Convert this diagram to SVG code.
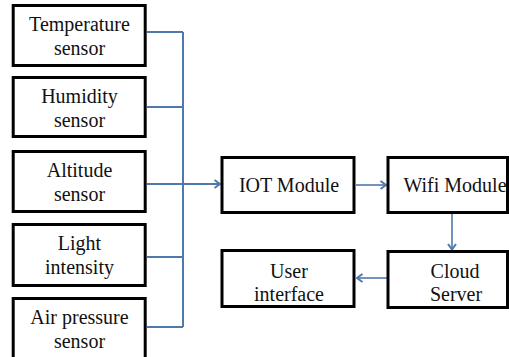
<svg xmlns="http://www.w3.org/2000/svg" width="509" height="357" viewBox="0 0 509 357">
  <style>
    .box { fill: #ffffff; stroke: #000000; stroke-width: 3; }
    .wire { fill: none; stroke: #4f79ad; stroke-width: 2; }
    .flow { fill: none; stroke: #4f79ad; stroke-width: 1.6; }
  </style>
  <defs>
    <marker id="open" markerWidth="10" markerHeight="10" refX="8.5" refY="5" orient="auto" markerUnits="userSpaceOnUse">
      <path d="M3,1 L8.5,5 L3,9" fill="none" stroke="#4f79ad" stroke-width="2"/>
    </marker>
  </defs>
  <rect width="509" height="357" fill="#ffffff"/>

  <!-- sensor bus and data-flow arrows -->
  <g id="connectors">
    <path class="wire" d="M147,32 H183 M147,107 H183 M147,257 H183 M147,327 H183 M183,32 V327"/>
    <path class="wire" d="M147,184 H220" marker-end="url(#open)"/>
    <path class="flow" d="M356,185 H386" marker-end="url(#open)"/>
    <path class="flow" d="M452,214 V249.5" marker-end="url(#open)"/>
    <path class="flow" d="M387,278 H357" marker-end="url(#open)"/>
  </g>

  <g font-family="'Liberation Serif', 'Times New Roman', serif" font-size="20" fill="#111111" text-anchor="middle">
    <g id="temperature-sensor">
      <rect class="box" x="13.2" y="5.5" width="132" height="60"/>
      <text x="79.5" y="31">Temperature</text>
      <text x="79.5" y="55">sensor</text>
    </g>
    <g id="humidity-sensor">
      <rect class="box" x="13.2" y="77.5" width="132" height="59"/>
      <text x="79.5" y="103">Humidity</text>
      <text x="79.5" y="127">sensor</text>
    </g>
    <g id="altitude-sensor">
      <rect class="box" x="13.2" y="151.5" width="132" height="60"/>
      <text x="79.5" y="177">Altitude</text>
      <text x="79.5" y="201">sensor</text>
    </g>
    <g id="light-intensity">
      <rect class="box" x="13.2" y="224.5" width="132" height="61"/>
      <text x="79.5" y="250">Light</text>
      <text x="79.5" y="274">intensity</text>
    </g>
    <g id="air-pressure-sensor">
      <rect class="box" x="13.2" y="298.5" width="132" height="62"/>
      <text x="79.5" y="324">Air pressure</text>
      <text x="79.5" y="348">sensor</text>
    </g>

    <g id="iot-module">
      <rect class="box" x="222" y="157.5" width="132" height="55"/>
      <text x="289" y="192">IOT Module</text>
    </g>
    <g id="wifi-module">
      <rect class="box" x="388" y="157.5" width="119.5" height="55"/>
      <text x="455" y="192">Wifi Module</text>
    </g>
    <g id="cloud-server">
      <rect class="box" x="388" y="251.5" width="119.5" height="56"/>
      <text x="455" y="278">Cloud</text>
      <text x="456" y="301">Server</text>
    </g>
    <g id="user-interface">
      <rect class="box" x="222" y="250.5" width="132" height="56"/>
      <text x="289" y="278">User</text>
      <text x="289" y="301">interface</text>
    </g>
  </g>
</svg>
